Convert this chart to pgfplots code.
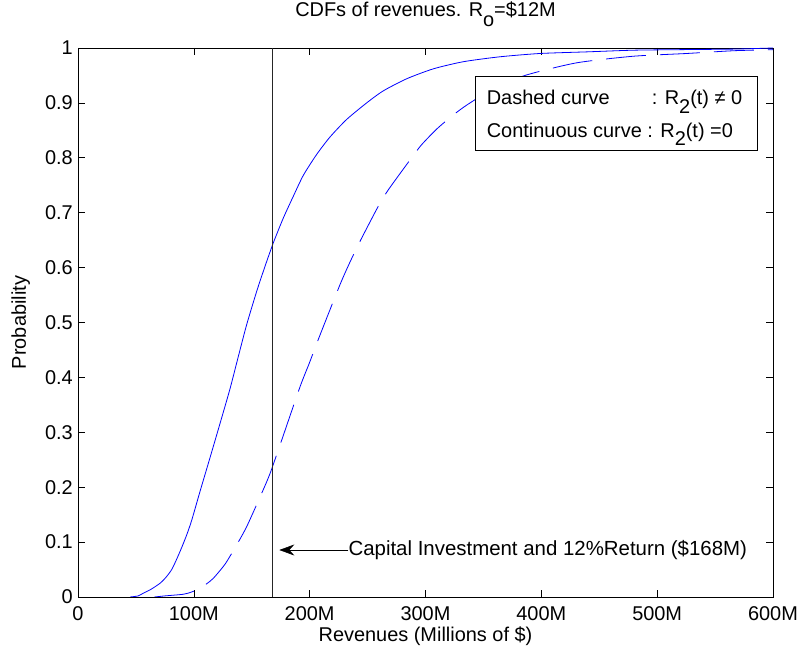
\documentclass[border=0pt]{standalone}
\usepackage{fontspec}
\setmainfont{Liberation Sans}
\usepackage{pgfplots}
\pgfplotsset{compat=1.18}
\usetikzlibrary{calc,arrows.meta}
\newcommand{\fs}{\fontsize{20}{23}\selectfont}
\newcommand{\sub}[2][-8.5bp]{\raisebox{#1}{#2}}

\pgfplotstableread{
x y
45 0
52 0.002
56.4 0.007
63 0.014
70.8 0.025
76 0.036
80.9 0.050
85 0.068
89.5 0.090
94 0.114
98.2 0.140
105.3 0.192
114 0.254
122.6 0.316
131.2 0.379
138.4 0.438
145.6 0.496
154.3 0.557
161.4 0.602
168.6 0.645
177.2 0.690
185.9 0.730
194.5 0.768
206 0.806
217.6 0.838
232 0.870
249.2 0.900
263.6 0.922
283.8 0.944
306.7 0.962
332.6 0.975
364.3 0.984
398.9 0.990
440 0.993
479.4 0.996
520 0.997
565.7 0.998
600 1.000
}\solid

\pgfplotstableread{
x y
66 0
75 0.002
90.9 0.005
98 0.009
105.3 0.016
111 0.024
116.8 0.034
127 0.060
137 0.095
145.6 0.128
158.6 0.189
165.8 0.225
175.9 0.286
191.7 0.383
199.7 0.426
208.9 0.477
226.2 0.569
234.8 0.610
243.5 0.648
259.3 0.712
268 0.742
288 0.800
296.7 0.824
310 0.853
324 0.878
335.6 0.896
360 0.928
387.4 0.951
430.5 0.973
479.4 0.985
525.5 0.990
565.7 0.995
600 0.997
}\dashedc

\begin{document}
\begin{tikzpicture}
\begin{axis}[name=ax, scale only axis, width=695bp, height=549bp,
  xmin=0, xmax=600, ymin=0, ymax=1,
  xtick={0,100,200,300,400,500,600},
  xticklabels={0,100M,200M,300M,400M,500M,600M},
  ytick={0,0.1,0.2,0.3,0.4,0.5,0.6,0.7,0.8,0.9,1},
  yticklabels={0,0.1,0.2,0.3,0.4,0.5,0.6,0.7,0.8,0.9,1},
  tick align=inside, tick pos=both, major tick length=7bp,
  tick style={black, line width=0.6bp},
  axis line style={black, line width=0.8bp},
  ticklabel style={font=\fs},
  xticklabel style={inner sep=0pt, anchor=north, yshift=-9bp},
  yticklabel style={inner sep=0pt, anchor=east, xshift=-5bp},
  label style={font=\fs},
  xlabel={Revenues (Millions of \$)},
  xlabel style={at={(axis description cs:0.5,0)}, anchor=base, yshift=-44bp},
  ylabel={Probability},
  ylabel style={at={(axis description cs:0,0.5)}, anchor=base, yshift=52bp},
  title={CDFs of revenues. R\sub[-10.5bp]{o}=\$12M},
  title style={font=\fs, at={(axis description cs:0.5,1)}, anchor=base, yshift=26bp},
]
\addplot[blue, line width=0.8bp, smooth, tension=0.4] table {\solid};
\addplot[blue, line width=0.8bp, smooth, tension=0.4, dash pattern=on 40bp off 14bp] table {\dashedc};
\addplot[black!85, line width=0.7bp] coordinates {(168,0) (168,1)};
\draw[black, line width=0.6bp, -{Stealth[length=15bp,width=11bp,inset=5bp]}] (axis cs:233.4,0.0856) -- (axis cs:173.8,0.0856);
\node[anchor=west, inner sep=0, font=\fontsize{20.5}{23}\selectfont] at (axis cs:233.4,0.0856) {Capital Investment and 12\%Return (\$168M)};
\draw[black, line width=0.8bp, fill=white] (axis cs:343.3,0.8142) rectangle (axis cs:586.5,0.9477);
\node[anchor=base west, inner sep=0, font=\fs] at (axis cs:352.8,0.8962) {Dashed curve};
\node[anchor=base west, inner sep=0, font=\fs] at (axis cs:495.3,0.8962) {: R\sub{2}(t) ≠ 0};
\node[anchor=base west, inner sep=0, font=\fs] at (axis cs:352.8,0.8373) {Continuous curve : R\sub{2}(t) =0};
\end{axis}
\pgfresetboundingbox
\path[use as bounding box] ($(ax.south west)+(-78bp,-53bp)$) rectangle ($(ax.north east)+(26bp,48bp)$);
\end{tikzpicture}
\end{document}
